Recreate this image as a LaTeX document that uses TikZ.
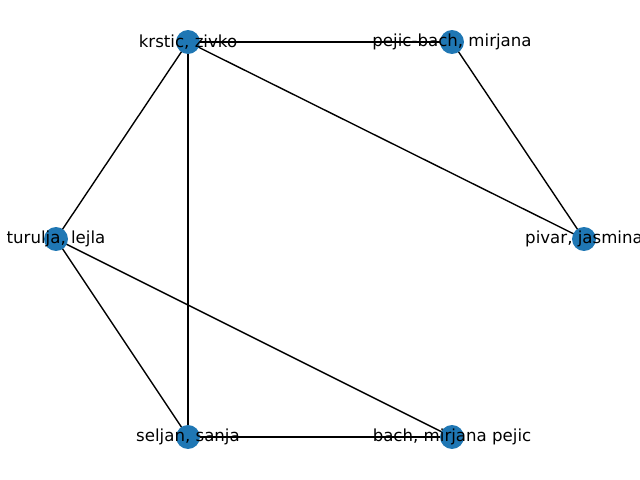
\documentclass[tikz,border=0pt]{standalone}
\usepackage{fontspec}
\setmainfont{DejaVu Sans}
\usetikzlibrary{backgrounds}
\definecolor{nodeblue}{HTML}{1F77B4}
\begin{document}
\begin{tikzpicture}[x=0.01in,y=-0.01in]
          \tikzset{vertex/.style={circle,fill=nodeblue,inner sep=0pt,minimum size=17.3pt},
                   lbl/.style={inner sep=0pt,font=\fontsize{12pt}{14pt}\selectfont},
                   edge/.style={black,line width=1pt}}
          \useasboundingbox (0,0) rectangle (640,480);
          \node [vertex] (krstic) at (188,42) {};
          \node [vertex] (pejicbach) at (452,42) {};
          \node [vertex] (turulja) at (56,239) {};
          \node [vertex] (pivar) at (584,239) {};
          \node [vertex] (seljan) at (188,437) {};
          \node [vertex] (bach) at (452,437) {};
          \begin{pgfonlayer}{background}
          \draw [edge] (krstic.center) -- (pejicbach.center);
          \draw [edge] (krstic.center) -- (turulja.center);
          \draw [edge] (krstic.center) -- (seljan.center);
          \draw [edge] (krstic.center) -- (pivar.center);
          \draw [edge] (pejicbach.center) -- (pivar.center);
          \draw [edge] (turulja.center) -- (seljan.center);
          \draw [edge] (turulja.center) -- (bach.center);
          \draw [edge] (seljan.center) -- (bach.center);
          \end{pgfonlayer}
          \node [lbl] at (krstic) {krstic, zivko};
          \node [lbl] at (pejicbach) {pejic-bach, mirjana};
          \node [lbl] at (turulja) {turulja, lejla};
          \node [lbl] at (pivar) {pivar, jasmina};
          \node [lbl] at (seljan) {seljan, sanja};
          \node [lbl] at (bach) {bach, mirjana pejic};
\end{tikzpicture}
\end{document}
